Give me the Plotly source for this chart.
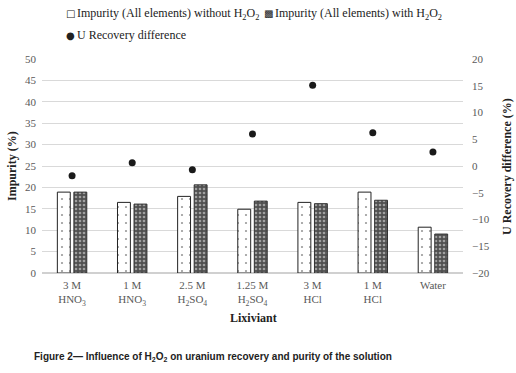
import plotly.graph_objects as go

categories = ["3 M<br>HNO<sub>3</sub>", "1 M<br>HNO<sub>3</sub>", "2.5 M<br>H<sub>2</sub>SO<sub>4</sub>",
              "1.25 M<br>H<sub>2</sub>SO<sub>4</sub>", "3 M<br>HCl", "1 M<br>HCl", "Water"]
impurity_without = [18.9, 16.5, 17.9, 14.9, 16.5, 18.9, 10.7]
impurity_with = [18.9, 16.1, 20.6, 16.8, 16.2, 17.0, 9.1]
u_recovery_diff = [-1.8, 0.6, -0.7, 6.0, 15.1, 6.2, 2.6]

serif = "Liberation Serif, DejaVu Serif, serif"
tickcol = "#595959"
textcol = "#222"

fig = go.Figure()
fig.add_trace(go.Bar(
    x=categories, y=impurity_without,
    name="Impurity (All elements) without H<sub>2</sub>O<sub>2</sub>",
    marker=dict(color="white", line=dict(color="#222", width=1),
                pattern=dict(shape=".", fgcolor="#333", bgcolor="white", size=8, solidity=0.06)),
))
fig.add_trace(go.Bar(
    x=categories, y=impurity_with,
    name="Impurity (All elements) with H<sub>2</sub>O<sub>2</sub>",
    marker=dict(color="#505050", line=dict(color="#333", width=1),
                pattern=dict(shape=".", fgcolor="#f0f0f0", bgcolor="#505050", size=4, solidity=0.35)),
))
fig.add_trace(go.Scatter(
    x=categories, y=u_recovery_diff, yaxis="y2", mode="markers",
    name="U Recovery difference",
    marker=dict(color="#1a1a1a", size=7),
))

fig.update_layout(
    width=516, height=373,
    margin=dict(l=42, r=53, t=59, b=100, autoexpand=False),
    paper_bgcolor="white", plot_bgcolor="white",
    font=dict(family=serif, size=11, color=textcol),
    barmode="group", bargap=0.45, bargroupgap=0.22,
    showlegend=False,
    xaxis=dict(tickfont=dict(family=serif, size=11, color=tickcol), showgrid=False,
               showline=False, ticks="", ticklabelstandoff=4),
    yaxis=dict(range=[0, 50], dtick=5, showgrid=True, gridcolor="#d9d9d9", gridwidth=1,
               zeroline=True, zerolinecolor="#d0d0d0", showline=False, ticklabelstandoff=5,
               tickfont=dict(family=serif, size=11, color=tickcol)),
    yaxis2=dict(range=[-20, 20], dtick=5, overlaying="y", side="right", showgrid=False,
                zeroline=False, showline=False, ticklabelstandoff=8,
                tickfont=dict(family=serif, size=11, color=tickcol)),
)


def px_x(px):
    return (px - 42) / 421


def px_y(py):
    return (273 - py) / 214


def note(text, x, y, xanchor="center", size=12, family=serif, angle=0, color=textcol):
    fig.add_annotation(text=text, xref="paper", yref="paper", x=px_x(x), y=px_y(y),
                       xanchor=xanchor, yanchor="middle", textangle=angle, showarrow=False,
                       font=dict(family=family, size=size, color=color))


# legend drawn as text
legend_items = [
    ("\u25A1", "Impurity (All elements) without H<sub>2</sub>O<sub>2</sub>", 70, 75, 14),
    ("\u25A9", "Impurity (All elements) with H<sub>2</sub>O<sub>2</sub>", 268, 273, 14),
    ("\u25CF", "U Recovery difference", 70, 75, 35),
]
for glyph, label, gx, tx, ty in legend_items:
    note(glyph, gx, ty, size=10, family="DejaVu Sans")
    note(label, tx, ty, xanchor="left", size=12)

note("<b>Impurity (%)</b>", 12, 166, angle=-90)
note("<b>U Recovery difference (%)</b>", 507, 166, angle=-90)
note("<b>Lixiviant</b>", 253, 318)
note("<b>Figure 2\u2014 Influence of H<sub>2</sub>O<sub>2</sub> on uranium recovery and purity of the solution</b>",
     32, 357, xanchor="left", size=10,
     family="Liberation Sans Narrow, Liberation Sans, Arial, sans-serif")

fig.write_html("out.html", config={"displayModeBar": False},
               post_script="document.body.style.margin='0';document.body.style.padding='0';")
